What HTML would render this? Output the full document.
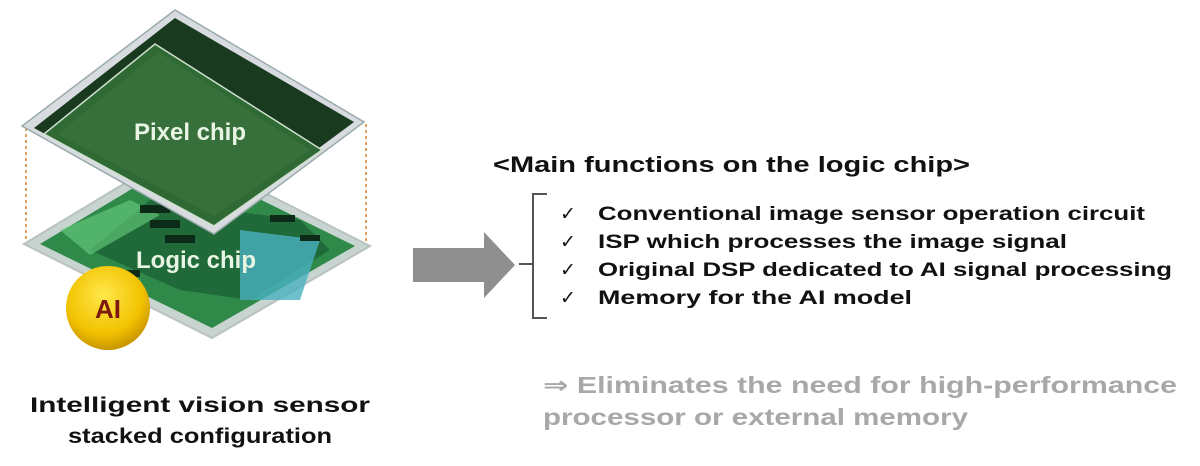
<!DOCTYPE html>
<html><head><meta charset="utf-8"><style>
html,body{margin:0;padding:0;background:#fff;}
svg{display:block;}
text{font-family:"Liberation Sans","DejaVu Sans",sans-serif;font-weight:bold;}
</style></head><body>
<svg width="1200" height="466" viewBox="0 0 1200 466" xmlns="http://www.w3.org/2000/svg">
<defs>
<radialGradient id="ai" cx="45%" cy="35%" r="65%">
<stop offset="0" stop-color="#ffe84a"/><stop offset="0.7" stop-color="#f2c200"/><stop offset="1" stop-color="#c99500"/>
</radialGradient>
</defs>
<line x1="26" y1="128" x2="26" y2="242" stroke="#e0a060" stroke-width="2" stroke-dasharray="3,3"/>
<line x1="366" y1="124" x2="366" y2="246" stroke="#e0a060" stroke-width="2" stroke-dasharray="3,3"/>
<!-- logic chip -->
<polygon points="180,150 370,246 212,338 24,244" fill="#c8d4d0" stroke="#b8c2c0" stroke-width="2"/>
<polygon points="180,160 355,246 212,328 40,244" fill="#2f8a4a"/>
<polygon points="150,200 300,220 330,250 250,300 180,290 90,250" fill="#1f6a38"/>
<polygon points="240,230 320,240 300,300 240,300" fill="#4ab0c0" opacity="0.8"/>
<polygon points="60,230 130,200 160,215 90,255" fill="#6ad080" opacity="0.6"/>
<g fill="#0d2a18">
<rect x="140" y="205" width="30" height="8"/><rect x="150" y="220" width="30" height="8"/><rect x="165" y="235" width="30" height="8"/>
<rect x="270" y="215" width="25" height="7"/><rect x="300" y="235" width="20" height="6"/><rect x="110" y="270" width="30" height="7"/>
</g>
<!-- pixel chip -->
<polygon points="175,10 364,122 214,234 22,126" fill="#d8dce0" stroke="#9aa" stroke-width="1.5"/>
<polygon points="175,18 354,122 214,226 34,128" fill="#1a3a20"/>
<polygon points="155,44 322,150 214,226 44,134" fill="#2f6a34" stroke="#cfe0cf" stroke-width="1.5"/>
<polygon points="158,52 310,150 214,216 58,134" fill="#37703a"/>
<text x="190" y="140" font-size="24" fill="#e8f5e4" text-anchor="middle">Pixel chip</text>
<text x="196" y="268" font-size="24" fill="#e8f5e4" text-anchor="middle">Logic chip</text>
<circle cx="108" cy="308" r="42" fill="url(#ai)"/>
<text x="108" y="318" font-size="26" fill="#7a1a10" text-anchor="middle">AI</text>
<text x="200" y="412" font-size="21" fill="#111" text-anchor="middle" textLength="340" lengthAdjust="spacingAndGlyphs">Intelligent vision sensor</text>
<text x="200" y="443" font-size="21" fill="#111" text-anchor="middle" textLength="264" lengthAdjust="spacingAndGlyphs">stacked configuration</text>
<polygon points="413,248 484,248 484,232 515,265 484,298 484,282 413,282" fill="#8f8f8f"/>
<path d="M547,194 L533,194 L533,318 L547,318 M519,264 L533,264" fill="none" stroke="#555" stroke-width="2"/>
<text x="493" y="172" font-size="22" fill="#111" textLength="477" lengthAdjust="spacingAndGlyphs">&lt;Main functions on the logic chip&gt;</text>
<g font-size="19" fill="#111">
<text x="560" y="220">✓</text><text x="560" y="248">✓</text><text x="560" y="276">✓</text><text x="560" y="304">✓</text>
<text x="598" y="220" textLength="547" lengthAdjust="spacingAndGlyphs">Conventional image sensor operation circuit</text>
<text x="598" y="248" textLength="469" lengthAdjust="spacingAndGlyphs">ISP which processes the image signal</text>
<text x="598" y="276" textLength="574" lengthAdjust="spacingAndGlyphs">Original DSP dedicated to AI signal processing</text>
<text x="598" y="304" textLength="314" lengthAdjust="spacingAndGlyphs">Memory for the AI model</text>
</g>
<text x="543" y="393" font-size="23" fill="#a8a8a8" textLength="634" lengthAdjust="spacingAndGlyphs">⇒ Eliminates the need for high-performance</text>
<text x="543" y="425" font-size="23" fill="#a8a8a8" textLength="425" lengthAdjust="spacingAndGlyphs">processor or external memory</text>
</svg>
</body></html>
